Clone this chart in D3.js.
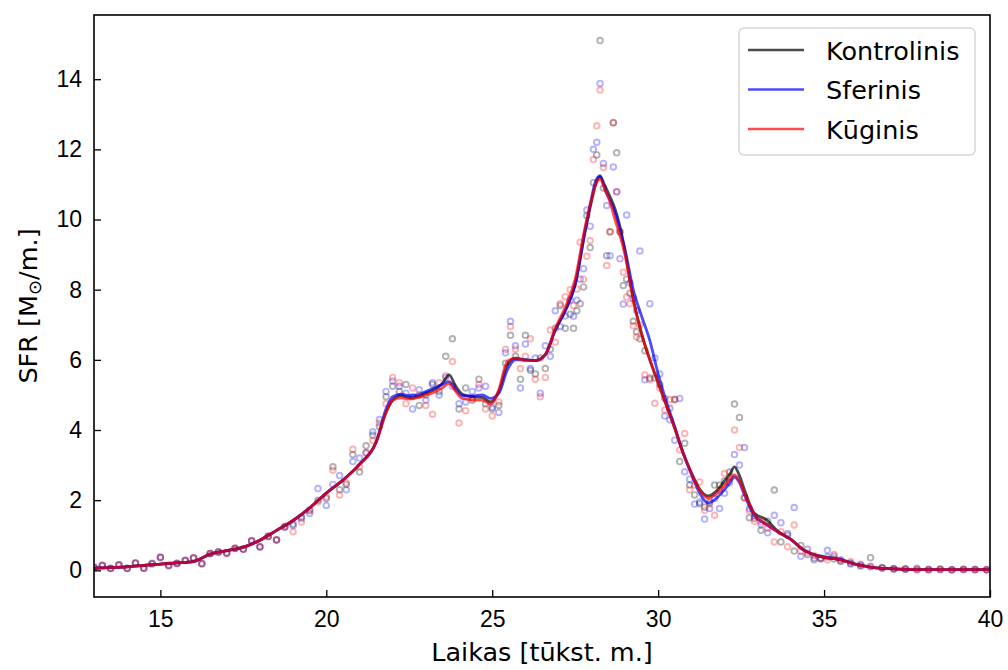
<!DOCTYPE html>
<html>
<head>
<meta charset="utf-8">
<script src="https://cdn.jsdelivr.net/npm/d3@7/dist/d3.min.js"></script>
<style>
body { margin: 0; background: #fff; }
svg { display: block; font-family: "DejaVu Sans", sans-serif; }
</style>
</head>
<body>
<script>
// Snapshot times [thousand yr] shared by the three runs
const times = [
  13.0, 13.25, 13.5, 13.75, 14.0, 14.25, 14.5, 14.75, 15.0, 15.25, 15.5, 15.75, 16.0, 16.25,
  16.5, 16.75, 17.0, 17.25, 17.5, 17.75, 18.0, 18.25, 18.5, 18.75, 19.0, 19.25, 19.5, 19.75,
  20.0, 20.2, 20.4, 20.6, 20.8, 21.0, 21.2, 21.4, 21.6, 21.8, 22.0, 22.2, 22.4, 22.6,
  22.8, 23.0, 23.2, 23.4, 23.6, 23.8, 24.0, 24.2, 24.4, 24.6, 24.8, 25.0, 25.2, 25.4,
  25.55, 25.7, 25.85, 26.0, 26.15, 26.3, 26.45, 26.6, 26.75, 26.9, 27.05, 27.2, 27.35,
  27.45, 27.55, 27.65, 27.75, 27.85, 27.95, 28.05, 28.15, 28.25, 28.35, 28.45,
  28.55, 28.65, 28.75, 28.85, 28.95, 29.05, 29.15, 29.25, 29.35, 29.45,
  29.6, 29.75, 29.9, 30.05, 30.2, 30.35, 30.5, 30.65, 30.8, 30.95, 31.1, 31.25,
  31.4, 31.55, 31.7, 31.85, 32.0, 32.15, 32.3, 32.45, 32.6, 32.75, 32.9,
  33.1, 33.3, 33.5, 33.7, 33.9, 34.1, 34.3, 34.5, 34.7, 34.9, 35.1, 35.3, 35.5,
  35.8, 36.1, 36.4, 36.75, 37.1, 37.45, 37.8, 38.15, 38.5, 38.85, 39.2, 39.55, 39.9
];

// Raw SFR points
const kontrolinisPts = [
  0.09, 0.14, 0.05, 0.16, 0.06, 0.21, 0.06, 0.19, 0.36, 0.14, 0.2, 0.28, 0.35, 0.19,
  0.48, 0.53, 0.5, 0.63, 0.6, 0.83, 0.68, 0.97, 0.87, 1.24, 1.32, 1.52, 1.7, 2.0,
  2.05, 2.95, 2.3, 2.45, 3.3, 2.8, 3.55, 3.85, 4.1, 4.95, 5.25, 5.1, 5.3, 4.95,
  4.7, 5.0, 5.3, 5.1, 6.1, 6.6, 4.6, 5.2, 4.85, 5.45, 4.75, 4.6, 4.7, 5.9,
  6.7, 6.1, 5.45, 6.7, 5.7, 5.6, 6.05, 5.75, 6.3, 6.9, 7.55, 6.9, 7.3,
  6.9, 7.4, 7.6, 8.08, 10.11, 9.2, 11.05, 11.84, 15.1, 10.9, 8.97,
  9.65, 12.76, 11.9, 9.65, 8.12, 8.3, 7.9, 7.1, 6.8, 6.6,
  6.26, 5.48, 5.48, 5.3, 4.9, 4.62, 4.87, 3.1, 3.62, 2.43, 2.15, 1.9,
  1.8, 1.95, 2.43, 2.43, 2.55, 2.8, 4.74, 4.36, 2.07, 1.5, 1.48,
  1.14, 1.4, 2.29, 0.81, 1.0, 0.55, 0.71, 0.45, 0.3, 0.35, 0.38, 0.32, 0.25,
  0.2, 0.12, 0.36, 0.08, 0.04, 0.03, 0.06, 0.02, 0.04, 0.02, 0.03, 0.02, 0.02
];
const sferinisPts = [
  0.08, 0.13, 0.06, 0.15, 0.05, 0.2, 0.07, 0.2, 0.38, 0.13, 0.19, 0.29, 0.36, 0.2,
  0.47, 0.52, 0.49, 0.62, 0.61, 0.85, 0.66, 0.96, 0.86, 1.22, 1.28, 1.48, 1.62, 2.33,
  1.85, 2.45, 2.7, 2.3, 3.1, 3.2, 3.35, 3.95, 4.3, 5.1, 5.4, 5.25, 5.05, 4.6,
  5.15, 4.85, 5.35, 5.0, 5.5, 5.25, 4.75, 4.8, 5.1, 5.2, 5.25, 4.65, 4.5, 6.2,
  7.1, 6.4, 5.2, 6.45, 5.75, 6.05, 5.05, 6.4, 6.1, 7.4, 6.95, 7.25, 7.7,
  7.24, 7.7, 8.3, 8.6, 10.27, 9.81, 12.0, 12.2, 13.88, 11.6, 10.4,
  8.97, 11.5, 10.79, 8.88, 7.59, 10.13, 8.2, 7.75, 7.4, 9.1,
  5.43, 7.6, 6.05, 5.6, 4.4, 4.29, 3.71, 4.9, 2.81, 2.6, 1.89, 1.95,
  1.46, 1.76, 2.05, 1.76, 2.2, 2.5, 3.3, 3.0, 3.5, 1.76, 1.55,
  1.3, 1.07, 1.57, 1.36, 1.05, 1.79, 0.4, 0.6, 0.35, 0.33, 0.57, 0.4, 0.3,
  0.18, 0.15, 0.1, 0.07, 0.05, 0.03, 0.02, 0.03, 0.02, 0.02, 0.02, 0.03, 0.02
];
const kuginisPts = [
  0.09, 0.15, 0.05, 0.16, 0.05, 0.21, 0.05, 0.18, 0.37, 0.15, 0.2, 0.28, 0.35, 0.18,
  0.49, 0.51, 0.48, 0.63, 0.6, 0.84, 0.67, 0.98, 0.88, 1.26, 1.1, 1.38, 1.73, 1.95,
  2.1, 2.85, 2.15, 2.5, 3.45, 2.95, 3.35, 3.7, 4.2, 4.75, 5.5, 5.35, 4.75, 5.2,
  5.0, 4.7, 4.45, 5.35, 5.55, 5.95, 4.2, 4.55, 4.9, 5.3, 4.6, 4.4, 4.8, 6.3,
  6.95, 6.3, 5.75, 6.1, 6.6, 5.45, 4.95, 5.5, 6.85, 6.5, 7.6, 7.8, 8.0,
  7.55, 8.02, 9.35, 8.3, 8.95, 9.4, 11.71, 12.67, 13.69, 11.48, 8.69,
  9.65, 12.76, 10.79, 9.65, 8.5, 7.79, 7.6, 6.97, 6.65, 7.0,
  5.57, 5.43, 4.76, 5.2, 4.57, 4.87, 4.87, 3.43, 3.9, 2.3, 2.43, 2.52,
  1.71, 1.9, 1.57, 2.3, 2.76, 2.67, 4.0, 3.5, 2.07, 1.7, 1.4,
  1.38, 1.2, 0.81, 1.1, 0.67, 1.29, 0.55, 0.5, 0.42, 0.33, 0.3, 0.45, 0.28,
  0.25, 0.17, 0.12, 0.06, 0.04, 0.05, 0.02, 0.02, 0.03, 0.02, 0.03, 0.02, 0.02
];

// Smoothed curves
const lineT = [
  13, 13.5, 14, 14.5, 15, 15.5, 16, 16.5, 17, 17.5, 18, 18.5, 19, 19.5, 20, 20.5, 21, 21.5,
  21.8, 22, 22.25, 22.5, 22.75, 23, 23.25, 23.5, 23.7, 23.9, 24.1, 24.4, 24.7, 24.95,
  25.2, 25.45, 25.7, 26, 26.3, 26.6, 26.9, 27.2, 27.5, 27.8, 28, 28.1, 28.25, 28.4,
  28.55, 28.7, 28.85, 29, 29.25, 29.5, 29.75, 30, 30.25, 30.5, 30.75, 31, 31.25, 31.5,
  31.75, 32, 32.15, 32.3, 32.45, 32.6, 32.9, 33.25, 33.6, 34, 34.4, 34.9, 35.5, 36,
  36.5, 37, 37.5, 38, 39, 40
];
const kontrolinisLine = [
  0.06, 0.08, 0.1, 0.14, 0.18, 0.21, 0.25, 0.46, 0.56, 0.66, 0.86, 1.14, 1.42, 1.78, 2.2, 2.57, 3.02, 3.65,
  4.5, 4.85, 4.98, 4.92, 4.95, 5.05, 5.15, 5.33, 5.57, 5.25, 5.02, 4.95, 4.93, 4.8,
  5.1, 5.85, 6.05, 6.0, 5.98, 6.15, 6.85, 7.4, 8.15, 9.65, 10.55, 10.95, 11.22, 10.95,
  10.65, 10.3, 9.8, 9.1, 7.75, 6.75, 6.0, 5.35, 4.7, 4.05, 3.35, 2.78, 2.32, 2.12,
  2.25, 2.55, 2.72, 2.95, 2.7, 2.3, 1.62, 1.45, 1.12, 0.88, 0.57, 0.39, 0.3, 0.16,
  0.08, 0.05, 0.03, 0.02, 0.02, 0.02
];
const sferinisLine = [
  0.06, 0.08, 0.1, 0.14, 0.18, 0.21, 0.25, 0.46, 0.56, 0.66, 0.86, 1.14, 1.42, 1.78, 2.2, 2.57, 3.02, 3.65,
  4.6, 4.95, 5.02, 4.98, 5.0, 5.1, 5.2, 5.3, 5.38, 5.15, 4.98, 4.97, 5.0, 4.9,
  5.05, 5.7, 6.0, 6.0, 5.98, 6.15, 6.85, 7.4, 8.15, 9.7, 10.65, 11.05, 11.25, 10.85,
  10.55, 10.2, 9.7, 9.15, 8.0, 7.25, 6.55, 5.6, 4.8, 4.1, 3.35, 2.75, 2.2, 1.92,
  2.05, 2.3, 2.48, 2.66, 2.5, 2.15, 1.55, 1.32, 1.1, 0.88, 0.57, 0.4, 0.31, 0.16,
  0.08, 0.05, 0.03, 0.02, 0.02, 0.02
];
const kuginisLine = [
  0.06, 0.08, 0.1, 0.14, 0.18, 0.21, 0.25, 0.46, 0.56, 0.66, 0.86, 1.14, 1.42, 1.78, 2.2, 2.57, 3.02, 3.65,
  4.5, 4.85, 4.92, 4.88, 4.92, 5.0, 5.08, 5.2, 5.33, 5.1, 4.9, 4.86, 4.85, 4.74,
  5.15, 5.95, 6.05, 5.98, 5.98, 6.15, 6.9, 7.5, 8.3, 9.8, 10.6, 10.95, 11.15, 10.85,
  10.5, 10.0, 9.55, 9.0, 7.7, 6.75, 6.0, 5.35, 4.7, 4.05, 3.35, 2.78, 2.28, 2.06,
  2.18, 2.42, 2.58, 2.72, 2.55, 2.2, 1.6, 1.32, 1.1, 0.88, 0.57, 0.39, 0.3, 0.16,
  0.08, 0.05, 0.03, 0.02, 0.02, 0.02
];

const seriesNames = ["Kontrolinis", "Sferinis", "Kūginis"];
const seriesColors = ["#000000", "#0000ff", "#ff0000"];
const xTicks = [15, 20, 25, 30, 35, 40];
const yTicks = [0, 2, 4, 6, 8, 10, 12, 14];

const width = 1008, height = 670;
const margin = {left: 94, right: 18, top: 15, bottom: 73};

const svg = d3.select("body").append("svg")
  .attr("width", width)
  .attr("height", height);

const x = d3.scaleLinear().domain([13, 40]).range([margin.left, width - margin.right]);
const y = d3.scaleLinear().domain([-0.76, 15.83]).range([height - margin.bottom, margin.top]);

const points = [kontrolinisPts, sferinisPts, kuginisPts];
const lines = [kontrolinisLine, sferinisLine, kuginisLine];

svg.append("clipPath").attr("id", "plot-clip")
  .append("rect")
  .attr("x", margin.left).attr("y", margin.top)
  .attr("width", width - margin.left - margin.right)
  .attr("height", height - margin.top - margin.bottom);

const plot = svg.append("g").attr("clip-path", "url(#plot-clip)");

// hollow markers
points.forEach(function(vals, s) {
  plot.append("g")
    .selectAll("circle")
    .data(vals)
    .enter()
    .append("circle")
    .attr("cx", function(d, i) { return x(times[i]); })
    .attr("cy", function(d) { return y(d); })
    .attr("r", 2.8)
    .attr("fill", "none")
    .attr("stroke", seriesColors[s])
    .attr("stroke-width", 1.9)
    .attr("stroke-opacity", 0.3);
});

const line = d3.line()
  .x(function(d, i) { return x(lineT[i]); })
  .y(function(d) { return y(d); })
  .curve(d3.curveMonotoneX);

lines.forEach(function(vals, s) {
  plot.append("path")
    .attr("d", line(vals))
    .attr("fill", "none")
    .attr("stroke", seriesColors[s])
    .attr("stroke-width", 2.8)
    .attr("stroke-opacity", 0.7);
});

// axes, ticks pointing inward
const xAxis = d3.axisBottom(x).tickValues(xTicks).tickSize(-7).tickPadding(14);
const yAxis = d3.axisLeft(y).tickValues(yTicks).tickSize(-7).tickPadding(12);

const gx = svg.append("g")
  .attr("transform", "translate(0," + (height - margin.bottom) + ")")
  .call(xAxis);
const gy = svg.append("g")
  .attr("transform", "translate(" + margin.left + ",0)")
  .call(yAxis);

[gx, gy].forEach(function(g) {
  g.select(".domain").remove();
  g.selectAll(".tick line").attr("stroke", "#000").attr("stroke-width", 1.3);
  g.selectAll(".tick text").attr("fill", "#000").style("font-size", "23px");
});

// frame
svg.append("rect")
  .attr("x", margin.left).attr("y", margin.top)
  .attr("width", width - margin.left - margin.right)
  .attr("height", height - margin.top - margin.bottom)
  .attr("fill", "none")
  .attr("stroke", "#000")
  .attr("stroke-width", 1.6);

// axis labels
svg.append("text")
  .attr("x", (margin.left + width - margin.right) / 2)
  .attr("y", 661)
  .attr("text-anchor", "middle")
  .style("font-size", "25.5px")
  .text("Laikas [tūkst. m.]");

const yl = svg.append("text")
  .attr("transform", "translate(37," + ((margin.top + height - margin.bottom) / 2) + ") rotate(-90)")
  .attr("text-anchor", "middle")
  .style("font-size", "25.5px");
yl.append("tspan").text("SFR [M");
yl.append("tspan").attr("baseline-shift", "-22%").style("font-size", "18px").text("⊙");
yl.append("tspan").text("/m.]");

// legend
const legend = svg.append("g");
legend.append("rect")
  .attr("x", 739).attr("y", 28)
  .attr("width", 236).attr("height", 127)
  .attr("rx", 5)
  .attr("fill", "#fff").attr("fill-opacity", 0.8)
  .attr("stroke", "#d6d6d6").attr("stroke-width", 1.5);

seriesNames.forEach(function(name, i) {
  const ly = 50 + i * 39.5;
  legend.append("line")
    .attr("x1", 748).attr("x2", 804)
    .attr("y1", ly).attr("y2", ly)
    .attr("stroke", seriesColors[i])
    .attr("stroke-width", 2.6)
    .attr("stroke-opacity", 0.7);
  legend.append("text")
    .attr("x", 826).attr("y", ly + 9.5)
    .style("font-size", "25.5px")
    .text(name);
});
</script>
</body>
</html>
